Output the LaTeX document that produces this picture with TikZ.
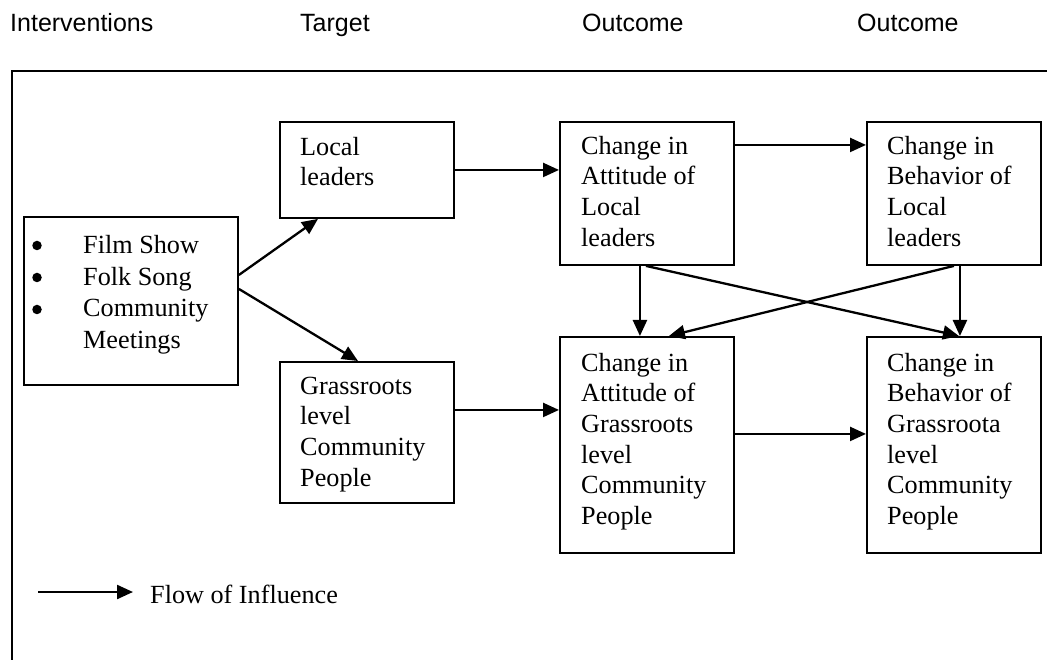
\documentclass[tikz,border=0pt]{standalone}
\usepackage{fontspec}
\setmainfont{Liberation Serif}
\newfontfamily\hdrfont{Liberation Sans}
\usetikzlibrary{arrows.meta,calc}
\begin{document}
\begin{tikzpicture}[x=1pt,y=-1pt,
  box/.style={draw, line width=1.9pt, anchor=north west, inner sep=0pt, minimum width=174pt},
  lbl/.style={anchor=north west, inner sep=0pt, align=left, font=\fontsize{26.2}{30.7}\selectfont},
  hdr/.style={anchor=base west, inner sep=0pt, font=\hdrfont\fontsize{25}{30}\selectfont},
  arr/.style={line width=2.3pt, -{Triangle[length=16pt,width=14pt]}},
  bul/.style={circle, fill, inner sep=0pt, minimum size=9.5pt},
  frame/.style={line width=2pt}]
\useasboundingbox (0,0) rectangle (1047,660);
% headers
\node[hdr] (h1) at (10,32) {Interventions};
\node[hdr] (h2) at (300,32) {Target};
\node[hdr] (h3) at (582,32) {Outcome};
\node[hdr] (h4) at (857,32) {Outcome};
% frame
\coordinate (f1) at (12,662);
\coordinate (f2) at (12,71);
\coordinate (f3) at (1049,71);
\draw[frame] (f1) -- (f2) -- (f3);
% boxes
\node[box, minimum width=214pt, minimum height=168pt] (int) at (23,216) {};
\node[box, minimum height=96pt] (ll) at (279,121) {};
\node[box, minimum height=141pt] (gr) at (279,361) {};
\node[box, minimum height=143pt] (al) at (559,121) {};
\node[box, minimum height=143pt] (bl) at (866,121) {};
\node[box, minimum height=216pt] (ag) at (559,336) {};
\node[box, minimum height=216pt] (bg) at (866,336) {};
% bullets
\node[bul] (b1) at (37,245.5) {};
\node[bul] (b2) at (37,277.5) {};
\node[bul] (b3) at (37,309.5) {};
% texts
\node[lbl, font=\fontsize{26.2}{31.5}\selectfont] (tint) at (83,231.5) {\strut Film Show\\\strut Folk Song\\\strut Community\\\strut Meetings};
\node[lbl] (tll) at (300,133.5) {\strut Local\\\strut leaders};
\node[lbl] (tgr) at (300,372.5) {\strut Grassroots\\\strut level\\\strut Community\\\strut People};
\node[lbl] (tal) at (581,132.5) {\strut Change in\\\strut Attitude of\\\strut Local\\\strut leaders};
\node[lbl] (tbl) at (887,132.5) {\strut Change in\\\strut Behavior of\\\strut Local\\\strut leaders};
\node[lbl] (tag) at (581,349.5) {\strut Change in\\\strut Attitude of\\\strut Grassroots\\\strut level\\\strut Community\\\strut People};
\node[lbl] (tbg) at (887,349.5) {\strut Change in\\\strut Behavior of\\\strut Grassroota\\\strut level\\\strut Community\\\strut People};
% arrows
\draw[arr] ([yshift=26pt]int.east) -- ([xshift=39pt]ll.south west);
\draw[arr] ([yshift=12pt]int.east) -- ([xshift=79pt]gr.north west);
\draw[arr] (ll.east) -- (ll.east -| al.west);
\draw[arr] ([yshift=22.5pt]gr.east) -- ([yshift=22.5pt]gr.east -| ag.west);
\draw[arr] ([yshift=48.5pt]al.east) -- ([yshift=48.5pt]al.east -| bl.west);
\draw[arr] ([yshift=11pt]ag.east) -- ([yshift=11pt]ag.east -| bg.west);
\draw[arr] ([xshift=-7pt]al.south) -- ([xshift=-7pt]al.south |- ag.north);
\draw[arr] ([xshift=6pt]bl.south) -- ([xshift=6pt]bl.south |- bg.north);
\draw[arr] ([xshift=-1pt]al.south) -- ([xshift=5pt]bg.north);
\draw[arr] (bl.south) -- ([xshift=22pt]ag.north);
% legend
\coordinate (la) at (38,592);
\coordinate (lb) at (133,592);
\draw[arr] (la) -- (lb);
\node[anchor=base west, inner sep=0pt, font=\fontsize{26.2}{30.7}\selectfont] (lt) at (150,603) {Flow of Influence};
\end{tikzpicture}
\end{document}
